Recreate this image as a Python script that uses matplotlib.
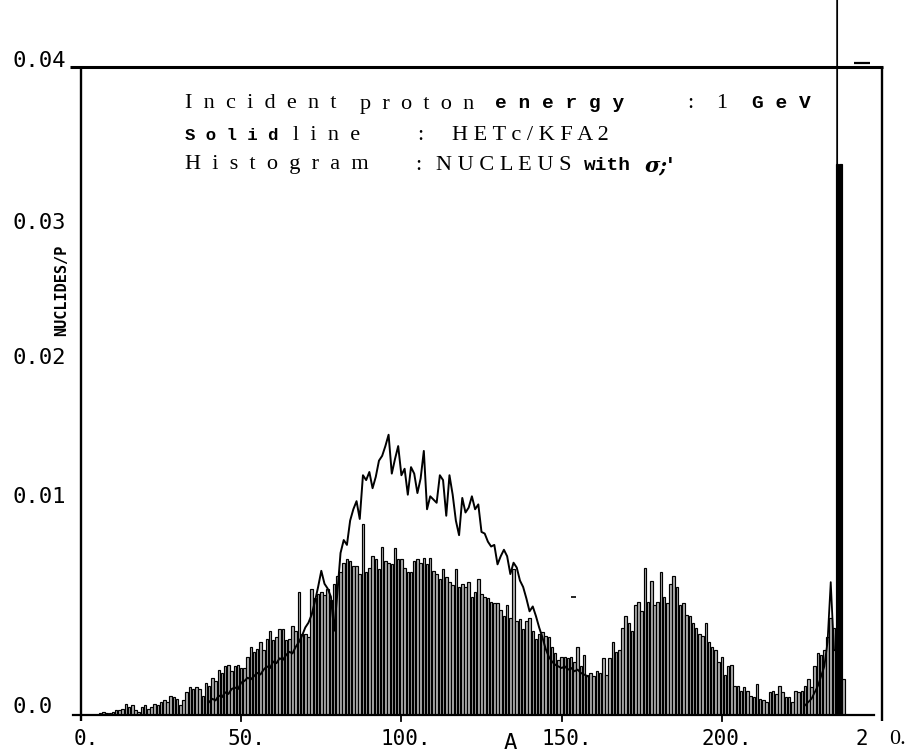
import numpy as np
import matplotlib
matplotlib.use("Agg")
import matplotlib.pyplot as plt
from matplotlib.lines import Line2D

# ---------------------------------------------------------------------------
# Mass distribution of residual nuclides (per incident proton), 1 GeV protons
# ---------------------------------------------------------------------------
mass_number = np.arange(1, 248)

# NUCLEUS histogram, one bin per mass number A = 1 .. 247
nucleus_yield = [
    0, 0, 0, 0, 0, 0.0001, 0.0002, 0.0001, 0.0001, 0.0002,
    0.0003, 0.0003, 0.0004, 0.0007, 0.0005, 0.0006, 0.0003, 0.0002, 0.0005, 0.0006,
    0.0004, 0.0005, 0.0007, 0.0006, 0.0008, 0.0009, 0.0008, 0.0012, 0.0011, 0.0010,
    0.0006, 0.0009, 0.0014, 0.0017, 0.0016, 0.0017, 0.0016, 0.0012, 0.0020, 0.0018,
    0.0023, 0.0021, 0.0028, 0.0026, 0.0030, 0.0031, 0.0027, 0.0030, 0.0031, 0.0029,
    0.0029, 0.0036, 0.0042, 0.0039, 0.0041, 0.0045, 0.0040, 0.0047, 0.0052, 0.0046,
    0.0048, 0.0053, 0.0053, 0.0046, 0.0047, 0.0055, 0.0052, 0.0076, 0.0050, 0.0050,
    0.0048, 0.0078, 0.0072, 0.0075, 0.0076, 0.0074, 0.0078, 0.0071, 0.0081, 0.0086,
    0.0088, 0.0094, 0.0096, 0.0095, 0.0092, 0.0092, 0.0087, 0.0118, 0.0088, 0.0091,
    0.0098, 0.0096, 0.0090, 0.0104, 0.0095, 0.0094, 0.0093, 0.0103, 0.0096, 0.0096,
    0.0091, 0.0088, 0.0088, 0.0095, 0.0096, 0.0094, 0.0097, 0.0093, 0.0097, 0.0089,
    0.0087, 0.0084, 0.0090, 0.0085, 0.0082, 0.0080, 0.0090, 0.0079, 0.0081, 0.0079,
    0.0082, 0.0073, 0.0076, 0.0084, 0.0075, 0.0073, 0.0072, 0.0070, 0.0069, 0.0069,
    0.0065, 0.0061, 0.0068, 0.0060, 0.0090, 0.0058, 0.0059, 0.0053, 0.0058, 0.0060,
    0.0052, 0.0047, 0.0050, 0.0051, 0.0049, 0.0048, 0.0042, 0.0038, 0.0034, 0.0036,
    0.0036, 0.0035, 0.0036, 0.0033, 0.0042, 0.0030, 0.0037, 0.0025, 0.0026, 0.0024,
    0.0027, 0.0026, 0.0035, 0.0025, 0.0035, 0.0045, 0.0039, 0.0040, 0.0054, 0.0061,
    0.0057, 0.0052, 0.0068, 0.0070, 0.0064, 0.0091, 0.0070, 0.0083, 0.0068, 0.0070,
    0.0088, 0.0073, 0.0069, 0.0081, 0.0086, 0.0079, 0.0068, 0.0069, 0.0062, 0.0061,
    0.0057, 0.0054, 0.0050, 0.0049, 0.0057, 0.0045, 0.0042, 0.0040, 0.0033, 0.0036,
    0.0025, 0.0030, 0.0031, 0.0018, 0.0018, 0.0015, 0.0017, 0.0015, 0.0012, 0.0011,
    0.0019, 0.0010, 0.0009, 0.0008, 0.0014, 0.0015, 0.0013, 0.0018, 0.0014, 0.0011,
    0.0011, 0.0008, 0.0015, 0.0014, 0.0015, 0.0018, 0.0022, 0.0017, 0.0030, 0.0038,
    0.0037, 0.0040, 0.0048, 0.0060, 0.0054, 0.0340, 0.0340, 0.0022, 0, 0,
    0, 0, 0, 0, 0, 0, 0,
]

# HETC/KFA2 curve (fission / spallation region)
hetc_A = np.arange(40, 159)
hetc_yield = [
    0.0008, 0.0010, 0.0009, 0.0012, 0.0011, 0.0014, 0.0013, 0.0016, 0.0017, 0.0016,
    0.0020, 0.0021, 0.0023, 0.0022, 0.0024, 0.0026, 0.0025, 0.0028, 0.0030, 0.0029,
    0.0033, 0.0032, 0.0035, 0.0034, 0.0037, 0.0039, 0.0038, 0.0042, 0.0045, 0.0049,
    0.0054, 0.0057, 0.0062, 0.0070, 0.0079, 0.0089, 0.0081, 0.0078, 0.0073, 0.0052,
    0.0075, 0.0100, 0.0108, 0.0105, 0.0120, 0.0127, 0.0132, 0.0121, 0.0148, 0.0145,
    0.0150, 0.0140, 0.0147, 0.0157, 0.0160, 0.0166, 0.0173, 0.0149, 0.0158, 0.0166,
    0.0148, 0.0152, 0.0136, 0.0153, 0.0149, 0.0137, 0.0146, 0.0163, 0.0127, 0.0135,
    0.0133, 0.0131, 0.0148, 0.0145, 0.0123, 0.0148, 0.0136, 0.0120, 0.0111, 0.0134,
    0.0125, 0.0128, 0.0135, 0.0127, 0.0130, 0.0113, 0.0112, 0.0107, 0.0104, 0.0105,
    0.0093, 0.0098, 0.0102, 0.0098, 0.0087, 0.0094, 0.0091, 0.0083, 0.0079, 0.0072,
    0.0064, 0.0067, 0.0061, 0.0054, 0.0048, 0.0041, 0.0036, 0.0033, 0.0031, 0.0030,
    0.0029, 0.0030, 0.0028, 0.0029, 0.0027, 0.0028, 0.0026, 0.0025, 0.0024,
]

# HETC/KFA2 curve near the target mass (goes off scale)
hetc_tail_A = [226, 228, 230, 232, 233, 234, 235, 236, 236]
hetc_tail_yield = [0.0006, 0.0010, 0.0018, 0.0030, 0.0045, 0.0082, 0.0040, 0.0040, 0.0460]

x_ticks = [0, 50, 100, 150, 200]
x_tick_labels = ["0.", "50.", "100.", "150.", "200."]
y_tick_labels = ["0.04", "0.03", "0.02", "0.01", "0.0"]

# ---------------------------------------------------------------------------
W, H = 919, 755
fig = plt.figure(figsize=(W / 100, H / 100), dpi=100)
fig.patch.set_facecolor("white")

X0, X1, Y0, Y1 = 81, 882, 715, 67          # frame in pixels
ax = fig.add_axes([X0 / W, 1 - Y0 / H, (X1 - X0) / W, (Y0 - Y1) / H])
ax.set_xlim(0, 250)
ax.set_ylim(0, 0.04)
ax.set_facecolor("none")
for s in ax.spines.values():
    s.set_visible(False)
ax.set_xticks([])
ax.set_yticks([])

px_per_unit = (Y0 - Y1) / 0.04


def fig_line(x0, y0, x1, y1, lw):
    fig.add_artist(Line2D([x0 / W, x1 / W], [1 - y0 / H, 1 - y1 / H],
                          transform=fig.transFigure, color="black", lw=lw,
                          solid_capstyle="butt"))


def fig_text(x, y, s, **kw):
    kw.setdefault("va", "center")
    kw.setdefault("ha", "left")
    kw.setdefault("color", "black")
    fig.text(x / W, 1 - y / H, s, **kw)


# histogram
face = ["black" if v > 0.02 else "#b0b0b0" for v in nucleus_yield]
ax.bar(mass_number, nucleus_yield, width=0.78, color=face,
       edgecolor="black", linewidth=0.85, zorder=2)

# HETC curve
ax.plot(hetc_A, hetc_yield, color="black", lw=1.4, zorder=3)
ax.plot(hetc_tail_A, hetc_tail_yield, color="black", lw=1.3, zorder=3,
        clip_on=False)

# base line and x tick marks
ax.plot([-2.5, 247.5], [0, 0], color="black", lw=1.6, clip_on=False, zorder=4)
for t in x_ticks[1:]:
    ax.plot([t, t], [0, -6 / px_per_unit], color="black", lw=1.3,
            clip_on=False)

# frame
fig_line(70, Y1, X1 + 1, Y1, 2.2)
fig_line(X0, Y1, X0, 721, 1.7)
fig_line(X1, Y1, X1, 721, 1.7)
fig_line(854, 63, 870, 63, 1.6)
fig_line(571, 597, 576, 597, 1.2)

# axis labels
mono = "DejaVu Sans Mono"
for t, lab in zip(x_ticks, x_tick_labels):
    ax.text(t + 1.5, -24 / px_per_unit, lab, ha="center", va="center",
            fontsize=15, family=mono)
fig_text(862, 739, "2", ha="center", fontsize=15, family=mono)
fig_text(897, 739, "0.", ha="center", fontsize=16, family="Liberation Serif")
fig_text(510, 743, "A", ha="center", fontsize=16, family=mono)

for lab, y in zip(y_tick_labels, [61, 223, 358, 497, 707]):
    fig_text(12, y, lab, fontsize=16, family=mono)

fig_text(62, 290, "NUCLIDES/P", rotation=90, ha="center", fontsize=11,
         family=mono, weight="bold")

# legend block
serif = dict(fontsize=16, family="Liberation Serif")
boldm = dict(fontsize=14, family="Liberation Mono", weight="bold")

fig_text(185, 104, "I  n  c  i  d  e  n  t", **serif)
fig_text(360, 104, "p  r  o  t  o  n", **serif)
fig_text(495, 104, "e n e r g y", **boldm)
fig_text(687, 104, ":", **serif)
fig_text(716, 104, "1", **serif)
fig_text(752, 104, "G e V", **boldm)

fig_text(185, 135, "S o l i d", fontsize=12.5, family="Liberation Mono",
         weight="bold")
fig_text(293, 135, "l  i  n  e", **serif)
fig_text(417, 135, ":", **serif)
fig_text(452, 135, "H E T c / K F A 2", **serif)

fig_text(185, 165, "H  i  s  t  o  g  r  a  m", **serif)
fig_text(415, 165, ":", **serif)
fig_text(436, 165, "N U C L E U S", **serif)
fig_text(584, 165, "with", **boldm)
fig_text(645, 165, "σ;'", fontsize=15, family="DejaVu Serif", weight="bold",
         style="italic")

fig.savefig("out.png", dpi=100, facecolor="white")
